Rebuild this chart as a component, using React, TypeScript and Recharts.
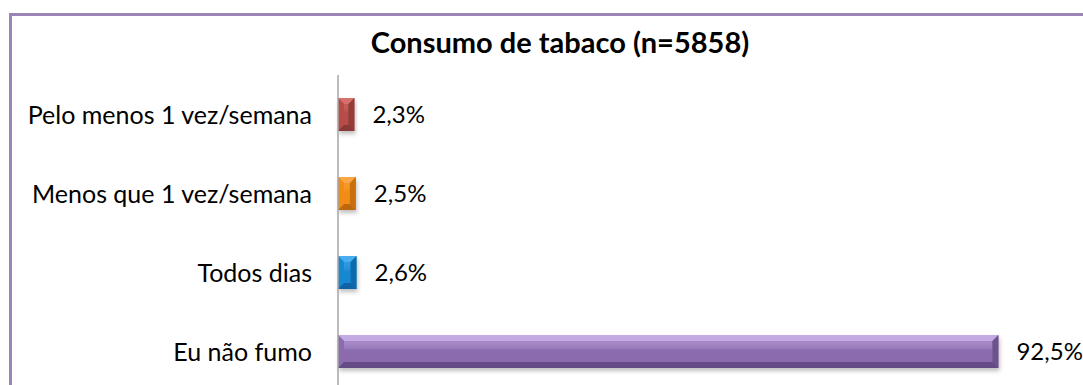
import React from "react";
import { BarChart, Bar, XAxis, YAxis, Cell, LabelList } from "recharts";

const categories = [
  "Pelo menos 1 vez/semana",
  "Menos que 1 vez/semana",
  "Todos dias",
  "Eu não fumo",
];
const values = [2.3, 2.5, 2.6, 92.5];

// face / light bevel / dark bevel per bar
const faceColors = ["#B64C47", "#F28C14", "#1888D2", "#8C6BAE"];
const lightColors = ["#D6706A", "#F9A844", "#4AAEEE", "#C4AAE2"];
const darkColors = ["#8A3834", "#BE680A", "#0E64A4", "#654C86"];

const data = categories.map((name, i) => ({ name, value: values[i], idx: i }));

const FONT = "Lato, 'Open Sans', sans-serif";

function BevelBar(props: any) {
  const { x, y, width, height, payload } = props;
  const i = payload.idx;
  const b = Math.min(6, width / 2, height / 2);
  const face = faceColors[i];
  const light = lightColors[i];
  const dark = darkColors[i];
  return (
    <g filter="url(#barShadow)">
      <rect x={x} y={y} width={width} height={height} fill={face} />
      <rect x={x + b} y={y + b} width={Math.max(0, width - 2 * b)} height={height - 2 * b} fill={`url(#face${i})`} />
      <polygon
        points={`${x},${y} ${x + width},${y} ${x + width - b},${y + b} ${x + b},${y + b}`}
        fill={light}
      />
      <polygon
        points={`${x},${y} ${x + b},${y + b} ${x + b},${y + height - b} ${x},${y + height}`}
        fill={face}
        opacity={0.9}
      />
      <polygon
        points={`${x + width},${y} ${x + width},${y + height} ${x + width - b},${y + height - b} ${x + width - b},${y + b}`}
        fill={dark}
        opacity={0.8}
      />
      <polygon
        points={`${x},${y + height} ${x + width},${y + height} ${x + width - b},${y + height - b} ${x + b},${y + height - b}`}
        fill={dark}
      />
    </g>
  );
}

function CategoryTick(props: any) {
  const { x, y, payload } = props;
  return (
    <text x={x - 18} y={y} dy={9} textAnchor="end" fontFamily={FONT} fontSize={25} fill="#000">
      {payload.value}
    </text>
  );
}

const fmt = (v: any) => `${Number(v).toFixed(1).replace(".", ",")}%`;

export default function App() {
  return (
    <div
      style={{
        position: "absolute",
        left: 0,
        top: 0,
        width: 1083,
        height: 385,
        overflow: "hidden",
        background: "#fff",
      }}
    >
      <div
        style={{
          position: "absolute",
          left: 9,
          top: 13,
          width: 1100,
          height: 400,
          borderLeft: "3px solid #9A84B8",
          borderTop: "3px solid #9A84B8",
        }}
      />
      <div
        style={{
          position: "absolute",
          left: 0,
          top: 25,
          width: 1120,
          textAlign: "center",
          fontFamily: FONT,
          fontWeight: 700,
          fontSize: 29,
          lineHeight: "34px",
          color: "#000",
        }}
      >
        Consumo de tabaco (n=5858)
      </div>
      <div style={{ position: "absolute", left: 0, top: 0 }}>
        <BarChart
          width={1083}
          height={400}
          layout="vertical"
          data={data}
          margin={{ top: 75, right: 31, bottom: 9, left: 0 }}
          barSize={33}
        >
          <defs>
            <filter id="barShadow" x="-20%" y="-20%" width="140%" height="160%">
              <feDropShadow dx={1} dy={3} stdDeviation={2} floodColor="#000" floodOpacity={0.25} />
            </filter>
            {faceColors.map((c, i) => (
              <linearGradient key={i} id={`face${i}`} x1="0" y1="0" x2="0" y2="1">
                <stop offset="0%" stopColor={lightColors[i]} stopOpacity={0.45} />
                <stop offset="45%" stopColor={c} stopOpacity={1} />
                <stop offset="100%" stopColor={c} stopOpacity={1} />
              </linearGradient>
            ))}
          </defs>
          <XAxis type="number" domain={[0, 100]} hide />
          <YAxis
            type="category"
            dataKey="name"
            width={338}
            axisLine={{ stroke: "#A6A6A6", strokeWidth: 1.5 }}
            tickLine={false}
            tick={<CategoryTick />}
            interval={0}
          />
          <Bar dataKey="value" shape={<BevelBar />} isAnimationActive={false}>
            {data.map((d, i) => (
              <Cell key={d.name} fill={faceColors[i]} />
            ))}
            <LabelList
              dataKey="value"
              position="right"
              offset={18}
              formatter={fmt}
              style={{ fontFamily: FONT, fontSize: 24, fill: "#000" }}
            />
          </Bar>
        </BarChart>
      </div>
    </div>
  );
}
